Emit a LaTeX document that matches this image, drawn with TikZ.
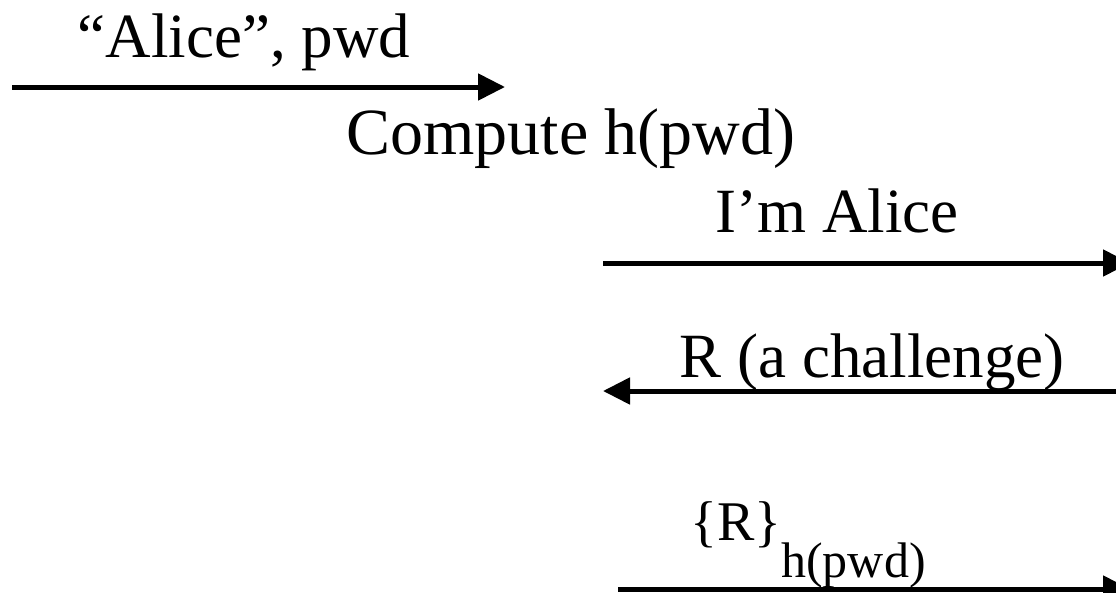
\documentclass[tikz,border=0pt]{standalone}
\usepackage{fontspec}
\setmainfont{Liberation Serif}
\usetikzlibrary{arrows.meta,positioning}

\begin{document}
\begin{tikzpicture}[x=1pt,y=-1pt,
                    msg/.style = {line width=5pt, -{Triangle[length=27pt,width=26pt]}},
                    lbl/.style = {anchor=base, inner sep=0pt,
                                  font=\fontsize{63}{70}\selectfont}]
                \useasboundingbox (0,0) rectangle (1116,592);
                \clip (0,0) rectangle (1116,592);
                % messages
                \coordinate (a1) at (12,87);   \coordinate (b1) at (505,87);
                \coordinate (a2) at (603,263); \coordinate (b2) at (1130,263);
                \coordinate (a3) at (1116,391); \coordinate (b3) at (603,391);
                \coordinate (a4) at (618,589); \coordinate (b4) at (1130,589);
                \draw[msg] (a1) -- (b1);
                \draw[msg] (a2) -- (b2);
                \draw[msg] (a3) -- (b3);
                \draw[msg] (a4) -- (b4);
                % labels
                \node[lbl] (nlogin) at (244,57) {``Alice'', pwd};
                \node[lbl, font=\fontsize{66}{72}\selectfont] (nhash) at (571,154) {Compute h(pwd)};
                \node[lbl] (nclaim) at (837,232) {I'm Alice};
                \node[lbl] (nchal) at (872,377) {R (a challenge)};
                \node[lbl, anchor=base west, font=\fontsize{56}{60}\selectfont] (nresp) at (690,540)
                    {\{R\}\raisebox{-37pt}{\fontsize{50}{54}\selectfont h(pwd)}};
\end{tikzpicture}
\end{document}
